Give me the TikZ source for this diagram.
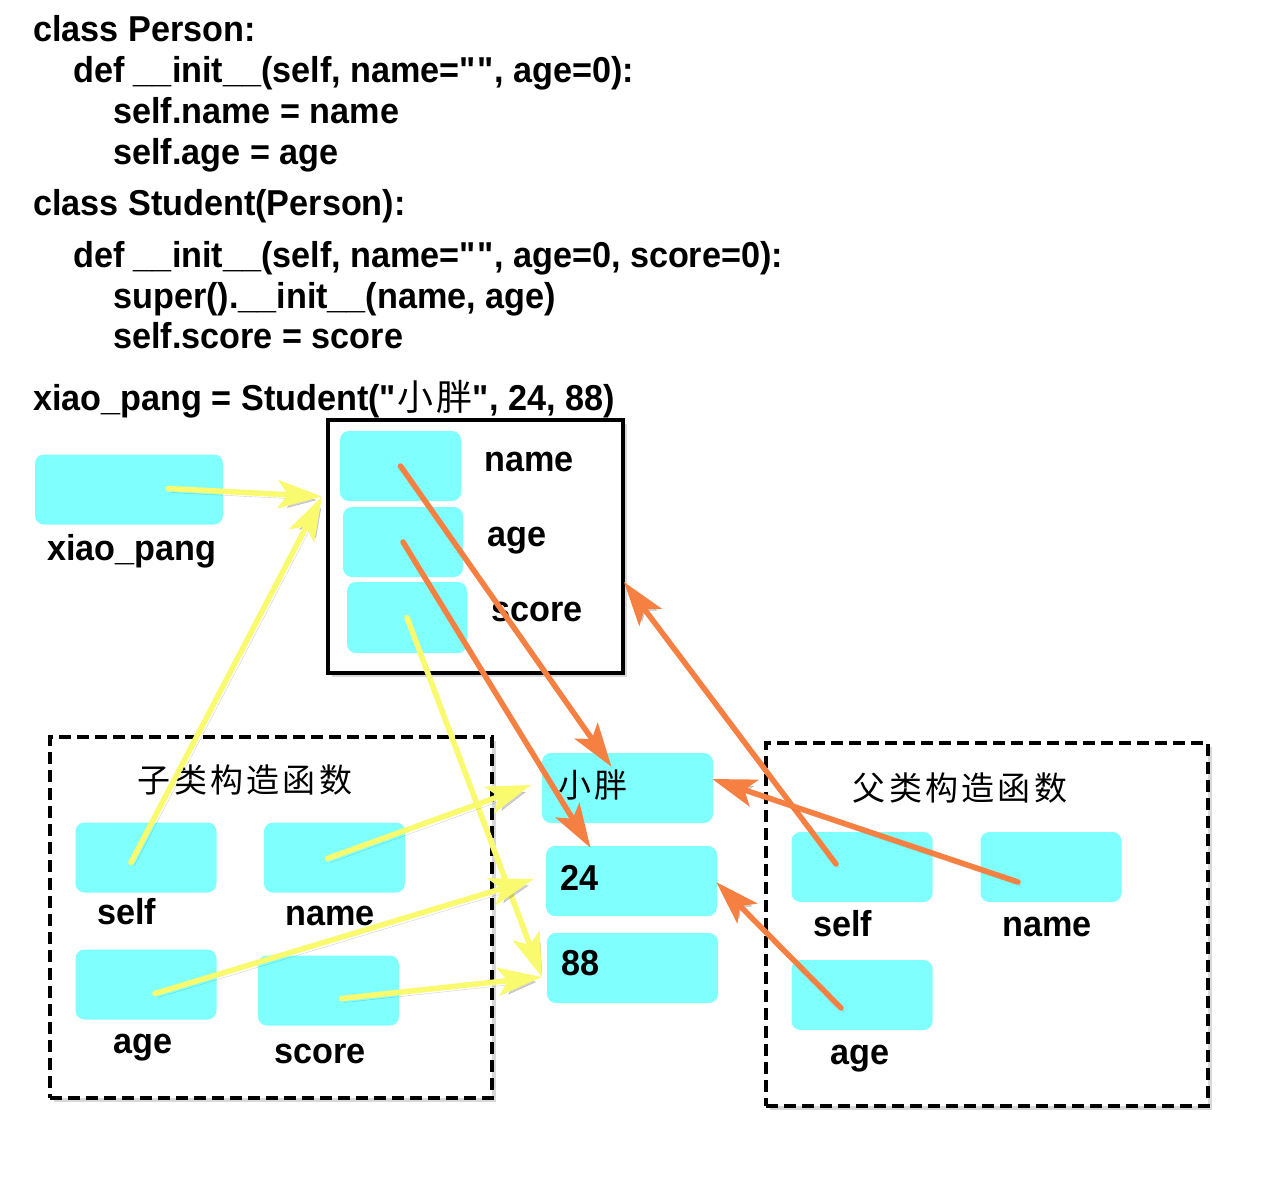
\documentclass[tikz,border=0pt]{standalone}
\usepackage{fontspec}
\setmainfont{Liberation Sans}[FakeStretch=0.95]
\newfontfamily\cjk[LetterSpace=10]{Noto Sans CJK SC}
\usepackage{tikz}
\usepackage{color}
\usetikzlibrary{arrows.meta,shadows}
\definecolor{slotcyan}{RGB}{128,255,255}
\definecolor{argyellow}{RGB}{250,250,110}
\definecolor{parorange}{RGB}{245,128,66}

\begin{document}
\begin{tikzpicture}[x=1pt,y=-1pt,
  code/.style={anchor=base west,inner sep=0pt,font=\fontsize{36}{40}\selectfont\bfseries},
  slot/.style={fill=slotcyan,rounded corners=9pt,inner sep=0pt,minimum height=70pt},
  frame/.style={draw,fill=white,outer sep=0pt,inner sep=0pt,drop shadow={shadow xshift=4pt,shadow yshift=-4pt,opacity=0.3}},
  ctitle/.style={font=\cjk\fontsize{33}{36}\selectfont,inner sep=0pt},
  arrshadow/.style={preaction={draw=black,opacity=0.18,transform canvas={shift={(3pt,-4pt)}}}},
  yarrow/.style={arrshadow,draw=argyellow,line width=5.5pt,line cap=round,-{Stealth[length=44pt,width=28pt,inset=10pt]}},
  oarrow/.style={arrshadow,draw=parorange,line width=5.5pt,line cap=round,-{Stealth[length=44pt,width=28pt,inset=10pt]}}]
\useasboundingbox[fill=white](0,0) rectangle (1262,1180);
\node[code] (l1) at (33,42) {class Person:};
\node[code] (l2) at (73,83) {def \_\_init\_\_(self, name=\textquotedbl\textquotedbl, age=0):};
\node[code] (l3) at (113,124) {self.name = name};
\node[code] (l4) at (113,165) {self.age = age};
\node[code] (l5) at (33,215) {class Student(Person):};
\node[code] (l6) at (73,267) {def \_\_init\_\_(self, name=\textquotedbl\textquotedbl, age=0, score=0):};
\node[code] (l7) at (113,308) {super().\_\_init\_\_(name, age)};
\node[code] (l8) at (113,348) {self.score = score};
\node[code] (l9) at (33,410) {xiao\_pang = Student(\textquotedbl{\cjk\mdseries 小胖}\textquotedbl, 24, 88)};
\node[frame,line width=3.5pt,minimum width=295pt,minimum height=253pt] (obj) at (475.5,546.5) {};
\node[frame,line width=3.5pt,dash pattern=on 12pt off 6pt,minimum width=442pt,minimum height=361pt] (sub) at (271,917.5) {};
\node[frame,line width=3.5pt,dash pattern=on 12pt off 6pt,minimum width=442pt,minimum height=363pt] (par) at (987,924.5) {};
\node[slot,minimum width=188pt] (xp) at (129,489.5) {};
\node[code] (xplab) at (47,560) {xiao\_pang};
\node[slot,minimum width=121pt] (sname) at (400.5,466) {};
\node[slot,minimum width=120pt] (sage) at (403,542) {};
\node[slot,minimum width=120pt,minimum height=71pt] (sscore) at (407,617.5) {};
\node[code] (snamelab) at (484,471) {name};
\node[code] (sagelab) at (487,546) {age};
\node[code] (sscorelab) at (491,621) {score};
\node[ctitle] (subtitle) at (245,780) {子类构造函数};
\node[slot,minimum width=141pt] (lself) at (146,857.5) {};
\node[slot,minimum width=141pt] (lname) at (334.5,857.5) {};
\node[slot,minimum width=141pt] (lage) at (146,984.5) {};
\node[slot,minimum width=141pt] (lscore) at (328.5,990.5) {};
\node[code] (lselflab) at (97,924) {self};
\node[code] (lnamelab) at (285,925) {name};
\node[code] (lagelab) at (113,1053) {age};
\node[code] (lscorelab) at (274,1063) {score};
\node[slot,minimum width=171pt] (v1) at (627.5,788) {};
\node[slot,minimum width=171pt] (v2) at (631.5,881) {};
\node[slot,minimum width=171pt] (v3) at (632.5,968) {};
\node[ctitle,anchor=west] (v1lab) at (558,785) {小胖};
\node[code] (v2lab) at (560,890) {24};
\node[code] (v3lab) at (561,975) {88};
\node[ctitle] (partitle) at (960,788) {父类构造函数};
\node[slot,minimum width=141pt] (rself) at (862,867) {};
\node[slot,minimum width=141pt] (rname) at (1051,867) {};
\node[slot,minimum width=141pt] (rage) at (862,995) {};
\node[code] (rselflab) at (813,936) {self};
\node[code] (rnamelab) at (1002,936) {name};
\node[code] (ragelab) at (830,1064) {age};
\coordinate (objport) at ([shift={(-6,-50)}]obj.west);
\draw[oarrow](sname.center)--([shift={(-16,14)}]v1.north);
\draw[oarrow](sage.center)--([shift={(-41,2)}]v2.north);
\draw[yarrow](sscore.center)--([shift={(-5,9)}]v3.west);
\draw[yarrow]([shift={(39,-1)}]xp.center)--(objport);
\draw[yarrow]([shift={(-15,5)}]lself.center)--(objport);
\draw[yarrow]([shift={(-7,1)}]lname.center)--([shift={(-11,-3)}]v1.west);
\draw[yarrow]([shift={(9,9)}]lage.center)--([shift={(-12,-2)}]v2.west);
\draw[yarrow]([shift={(13,8)}]lscore.center)--([shift={(-5,9)}]v3.west);
\draw[oarrow]([shift={(-26,-3)}]rself.center)--([shift={(1,35.5)}]obj.east);
\draw[oarrow]([shift={(-33,15)}]rname.center)--([shift={(-1,-9)}]v1.east);
\draw[oarrow]([shift={(-21,13)}]rage.center)--([shift={(-1,1)}]v2.east);
\end{tikzpicture}
\end{document}
